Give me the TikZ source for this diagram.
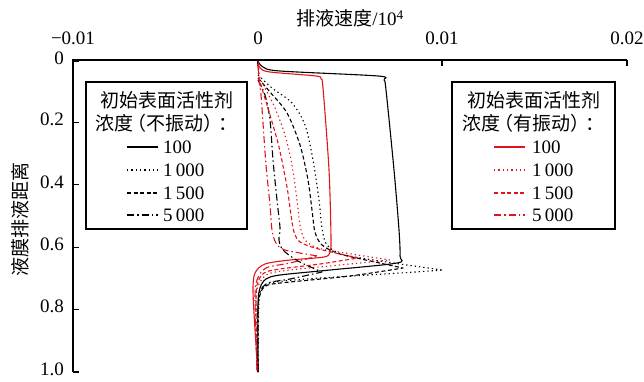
\documentclass[tikz,border=0pt]{standalone}
\usepackage{fontspec}
\setmainfont{Liberation Serif}
\newfontfamily\cjk{Noto Sans CJK SC}
\definecolor{curvered}{RGB}{225,20,30}

\begin{document}
\begin{tikzpicture}[x=1pt, y=-1pt]
        \tikzstyle{lbl} = [font=\fontsize{19}{22}\selectfont, inner sep=0pt]
        \tikzstyle{ticklbl} = [lbl, text height=0.66em, text depth=0pt]
        \tikzstyle{ax} = [line width=1.2pt]
        \tikzstyle{crv} = [line width=1.1pt, line join=round]
        \tikzstyle{dotline} = [dash pattern=on 1.3pt off 3pt]
        \tikzstyle{dashline} = [dash pattern=on 4pt off 2.5pt]
        \tikzstyle{dashdotline} = [dash pattern=on 7pt off 3pt on 1.5pt off 3pt]
        \tikzstyle{legendbox} = [draw, line width=1.2pt]
        \useasboundingbox (0,0) rectangle (644,381);
        \coordinate (O) at (73,60);
        \coordinate (X) at (627,60);
        \coordinate (Y) at (73,372);
        \draw[ax] (Y) -- (O) -- (X);
        \foreach \xv/\xt in {73/{−0.01}, 258/0, 442/0.01, 627/0.02} {
            \draw[ax] (\xv,60) -- (\xv,66);
            \node[ticklbl] (xt-\xv) at (\xv,41.5) {\xt};
        }
        \foreach \yv/\yt in {61/0, 122.4/0.2, 184.8/0.4, 247.2/0.6, 309.6/0.8, 372/1.0} {
            \draw[ax] (73,\yv) -- (79,\yv);
            \node[ticklbl, anchor=east] (yt-\yt) at (64,\yv) {\yt};
        }
        \node[lbl] (xlabel) at (350,18) {{\cjk 排液速度}/10\textsuperscript{4}};
        \node[lbl, rotate=90] (ylabel) at (20,219) {\cjk 液膜排液距离};
        \draw[crv] plot[smooth, tension=0.5] coordinates {(258,61) (263,67) (280,71) (378,76) (384,80) (386,90) (394,170) (399,230) (400,256) (397,263) (330,270) (280,275) (266,279) (260,288) (258,305) (258,372)};
        \draw[crv, curvered] plot[smooth, tension=0.5] coordinates {(258,61) (260,68) (270,72) (316,76) (321,79) (323,88) (329,170) (331,238) (330,252) (324,257) (290,260) (265,264) (255,273) (253,290) (255,330) (258,372)};
        \draw[crv, dotline] plot[smooth, tension=0.5] coordinates {(258,75) (272,88) (292,103) (305,125) (313,160) (319,200) (322,228) (327,245) (345,255) (400,264) (443,270)}
            -- plot[smooth, tension=0.5] coordinates {(443,270) (400,273) (320,278) (275,282) (263,287) (259,300) (258,372)};
        \draw[crv, dashline] plot[smooth, tension=0.5] coordinates {(258,78) (270,92) (287,113) (300,145) (308,180) (312,210) (315,232) (322,245) (340,254) (375,262) (403,268)}
            -- plot[smooth, tension=0.5] coordinates {(403,268) (350,276) (290,282) (268,285) (261,292) (258,310) (258,372)};
        \draw[crv, dashdotline] plot[smooth, tension=0.5] coordinates {(258,80) (265,95) (270,120) (273,160) (277,200) (280,228) (279,240) (283,250) (298,261) (322,272)}
            -- plot[smooth, tension=0.5] coordinates {(322,272) (290,279) (268,283) (260,292) (258,310) (258,372)};
        \draw[crv, curvered, dotline] plot[smooth, tension=0.5] coordinates {(258,64) (260,78) (266,90) (275,108) (285,135) (292,165) (297,200) (300,225) (305,240) (318,248) (345,253) (390,260)}
            -- plot[smooth, tension=0.5] coordinates {(390,260) (340,265) (290,270) (268,274) (259,284) (256,300) (257,372)};
        \draw[crv, curvered, dashline] plot[smooth, tension=0.5] coordinates {(258,64) (259,78) (263,92) (270,115) (279,147) (287,187) (291,215) (294,232) (300,242) (315,248) (340,254) (358,258)}
            -- plot[smooth, tension=0.5] coordinates {(358,258) (320,264) (280,269) (264,273) (257,285) (256,310) (257,372)};
        \draw[crv, curvered, dashdotline] plot[smooth, tension=0.5] coordinates {(258,64) (259,80) (261,95) (263,123) (266,165) (270,205) (272,230) (276,243) (285,250) (318,256)}
            -- plot[smooth, tension=0.5] coordinates {(318,256) (290,263) (266,268) (257,280) (255,300) (257,372)};
        \draw[legendbox] (86,82) rectangle (247,229);
        \node[lbl, anchor=west] (lt-1) at (100,100) {\cjk 初始表面活性剂};
        \node[lbl, anchor=west] (lt-2) at (95,123) {\cjk 浓度\kern-6pt（不振动）\kern-4pt：};
        \draw[crv] (127,147) -- (158,147);
        \draw[crv, dotline] (127,170) -- (158,170);
        \draw[crv, dashline] (127,193) -- (158,193);
        \draw[crv, dashdotline] (127,215) -- (158,215);
        \node[lbl, anchor=west] (le-1) at (163,147) {100};
        \node[lbl, anchor=west] (le-2) at (163,170) {1\,000};
        \node[lbl, anchor=west] (le-3) at (163,193) {1\,500};
        \node[lbl, anchor=west] (le-4) at (163,215) {5\,000};
        \draw[legendbox] (452,82) rectangle (615,229);
        \node[lbl, anchor=west] (rt-1) at (467,100) {\cjk 初始表面活性剂};
        \node[lbl, anchor=west] (rt-2) at (462,123) {\cjk 浓度\kern-6pt（有振动）\kern-4pt：};
        \draw[crv, curvered] (494,147) -- (525,147);
        \draw[crv, curvered, dotline] (494,170) -- (525,170);
        \draw[crv, curvered, dashline] (494,193) -- (525,193);
        \draw[crv, curvered, dashdotline] (494,215) -- (525,215);
        \node[lbl, anchor=west] (re-1) at (532,147) {100};
        \node[lbl, anchor=west] (re-2) at (532,170) {1\,000};
        \node[lbl, anchor=west] (re-3) at (532,193) {1\,500};
        \node[lbl, anchor=west] (re-4) at (532,215) {5\,000};
      \end{tikzpicture}
\end{document}
